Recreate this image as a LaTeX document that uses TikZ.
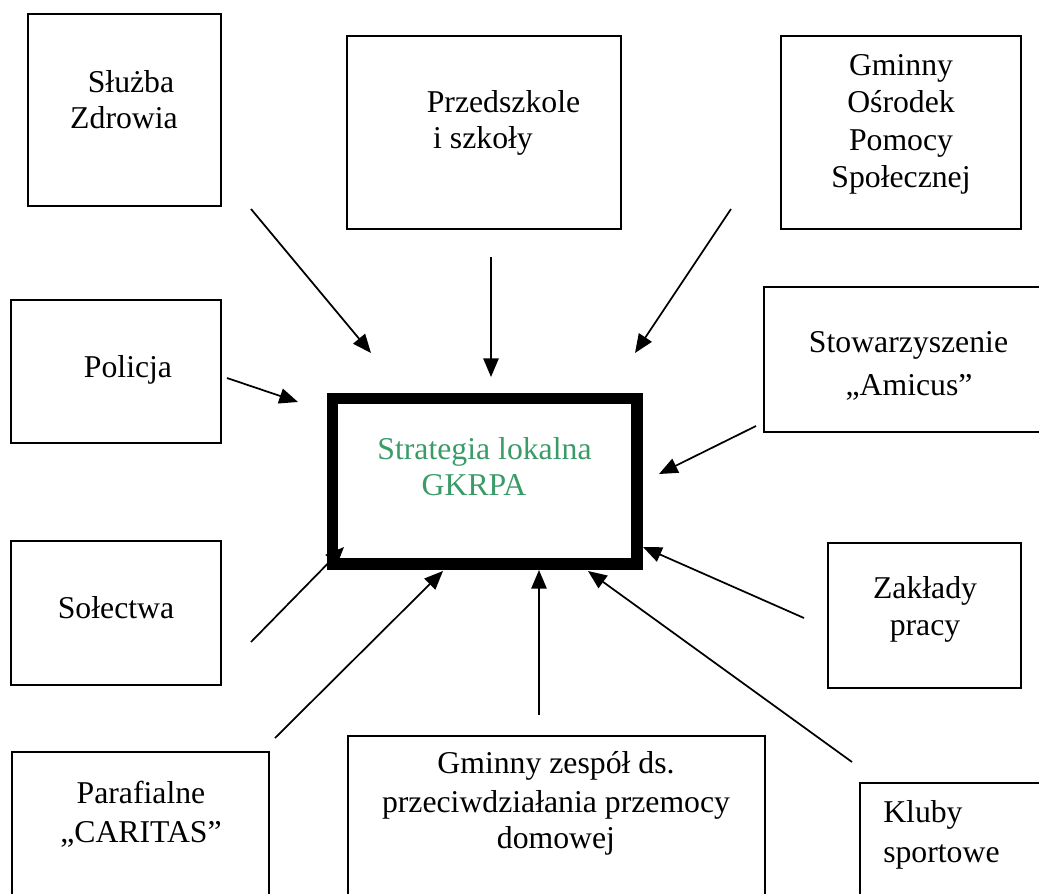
\documentclass[tikz,border=0pt]{standalone}
\usepackage{fontspec}
\setmainfont{Liberation Serif}
\usetikzlibrary{arrows.meta,fit}
\definecolor{stratgreen}{RGB}{58,155,104}
\tikzset{
  box/.style={draw, line width=1.2pt, inner sep=0pt},
  mainbox/.style={draw, line width=8.6pt, inner sep=0pt},
  lbl/.style={inner sep=0pt, anchor=base, font=\fontsize{23.8}{28}\selectfont},
  lbll/.style={lbl, anchor=base west},
  glbl/.style={lbl, text=stratgreen},
  arr/.style={line width=1.3pt, -{Triangle[length=14pt,width=11.5pt]}}
}
\begin{document}
\begin{tikzpicture}[x=0.75pt,y=-0.75pt]
\clip (0,0) rectangle (1039,893);
\useasboundingbox (0,0) rectangle (1039,893);
% boxes
\node[box, fit={(28,14) (221,206)}] (sz) {};
\node[box, fit={(347,36) (621,229)}] (ps) {};
\node[box, fit={(781,36) (1021,229)}] (gops) {};
\node[box, fit={(11,300) (221,443)}] (pol) {};
\node[box, fit={(764,287) (1050,432)}] (ami) {};
\node[mainbox, fit={(332.5,398.5) (637,564)}] (main) {};
\node[box, fit={(11,541) (221,685)}] (sol) {};
\node[box, fit={(828,543) (1021,688)}] (zak) {};
\node[box, fit={(12,752) (269,910)}] (car) {};
\node[box, fit={(348,736) (765,910)}] (gz) {};
\node[box, fit={(860,783) (1050,910)}] (klu) {};
% texts
\node[lbl] (sz1) at (131,92) {Służba};
\node[lbl] (sz2) at (124,128) {Zdrowia};
\node[lbl] (ps1) at (503.5,112) {Przedszkole};
\node[lbl] (ps2) at (483,148) {i szkoły};
\node[lbl] (go1) at (901,75) {Gminny};
\node[lbl] (go2) at (901,112.5) {Ośrodek};
\node[lbl] (go3) at (901,150) {Pomocy};
\node[lbl] (go4) at (901,187) {Społecznej};
\node[lbl] (po1) at (128,377) {Policja};
\node[lbl] (am1) at (908.5,352) {Stowarzyszenie};
\node[lbl] (am2) at (909,395) {„Amicus”};
\node[glbl] (m1) at (484.5,459) {Strategia lokalna};
\node[glbl] (m2) at (474,495) {GKRPA};
\node[lbl] (so1) at (116,618) {Sołectwa};
\node[lbl] (za1) at (925,598) {Zakłady};
\node[lbl] (za2) at (925,635) {pracy};
\node[lbl] (ca1) at (141,803) {Parafialne};
\node[lbl] (ca2) at (141,842) {„CARITAS”};
\node[lbl] (gz1) at (556,773) {Gminny zespół ds.};
\node[lbl] (gz2) at (556,812) {przeciwdziałania przemocy};
\node[lbl] (gz3) at (556,848) {domowej};
\node[lbll] (kl1) at (883,822) {Kluby};
\node[lbll] (kl2) at (883,862) {sportowe};
% arrow end points
\coordinate (aS1) at (251,209);  \coordinate (aE1) at (371,353);
\coordinate (aS2) at (491,257);  \coordinate (aE2) at (491,377);
\coordinate (aS3) at (731,209);  \coordinate (aE3) at (635,353);
\coordinate (aS4) at (227,378);  \coordinate (aE4) at (298,402);
\coordinate (aS5) at (756,426);  \coordinate (aE5) at (659,474);
\coordinate (aS6) at (251,642);  \coordinate (aE6) at (344,547);
\coordinate (aS7) at (275,738);  \coordinate (aE7) at (443,571);
\coordinate (aS8) at (539,715);  \coordinate (aE8) at (539,570);
\coordinate (aS9) at (852,762);  \coordinate (aE9) at (588,571);
\coordinate (aS10) at (804,618); \coordinate (aE10) at (643,547);
% arrows
\draw[arr] (aS1) -- (aE1);
\draw[arr] (aS2) -- (aE2);
\draw[arr] (aS3) -- (aE3);
\draw[arr] (aS4) -- (aE4);
\draw[arr] (aS5) -- (aE5);
\draw[arr] (aS6) -- (aE6);
\draw[arr] (aS7) -- (aE7);
\draw[arr] (aS8) -- (aE8);
\draw[arr] (aS9) -- (aE9);
\draw[arr] (aS10) -- (aE10);
\end{tikzpicture}
\end{document}
